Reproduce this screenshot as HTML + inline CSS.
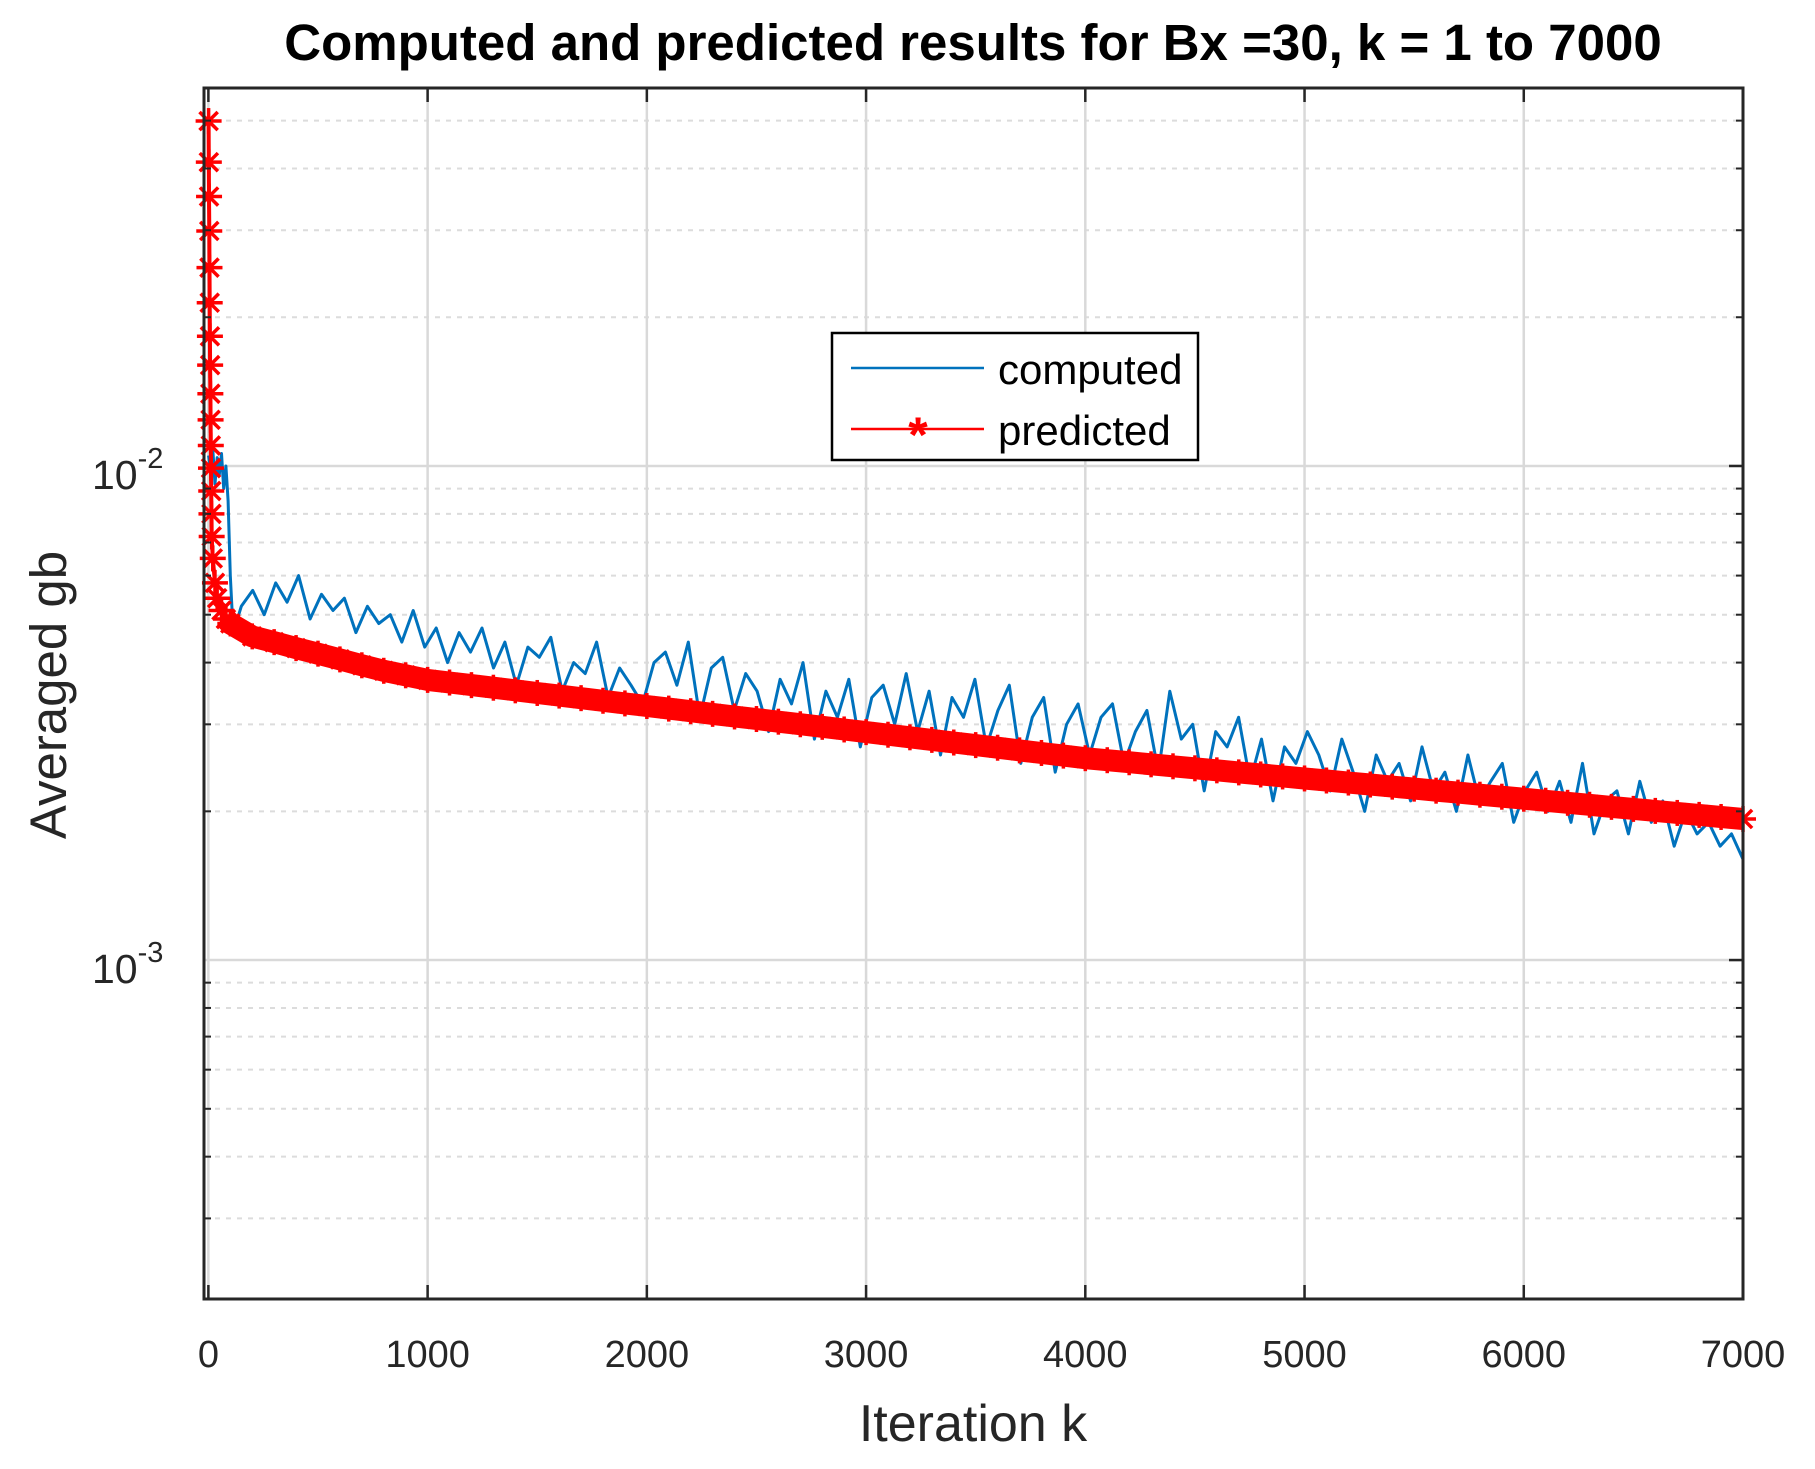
<!DOCTYPE html>
<html><head><meta charset="utf-8"><style>
html,body{margin:0;padding:0;background:#fff;}
svg{display:block;font-family:"Liberation Sans",Arial,sans-serif;}
</style></head><body>
<svg id="chart" width="1815" height="1469" viewBox="0 0 1815 1469" xmlns="http://www.w3.org/2000/svg">
<rect x="0" y="0" width="1815" height="1469" fill="#fff"/>
<g id="grid"></g>
<g id="series"></g>
<g id="axes"></g>
<text x="973" y="60" text-anchor="middle" font-size="51" font-weight="bold" fill="#000">Computed and predicted results for Bx =30, k = 1 to 7000</text>
<text x="973" y="1441" text-anchor="middle" font-size="52" fill="#262626">Iteration k</text>
<text transform="translate(66,695) rotate(-90)" text-anchor="middle" font-size="51" fill="#262626">Averaged gb</text>
<g>
<rect x="832" y="333" width="366" height="127" fill="#fff" stroke="#000" stroke-width="2.5"/>
<line x1="851" y1="368" x2="984" y2="368" stroke="#0072BD" stroke-width="2.5"/>
<text x="998" y="384" font-size="42" fill="#000">computed</text>
<line x1="851" y1="429" x2="984" y2="429" stroke="#ff0000" stroke-width="2.5"/>
<text x="918" y="452" text-anchor="middle" font-size="50" font-weight="bold" fill="#ff0000">*</text>
<text x="998" y="445" font-size="42" fill="#000">predicted</text>
</g>
</svg>
<script>
const xTicks = [0,1000,2000,3000,4000,5000,6000,7000];
const yMajor = [0.001,0.01];
const yMinor = [0.0003,0.0004,0.0005,0.0006,0.0007,0.0008,0.0009,0.002,0.003,0.004,0.005,0.006,0.007,0.008,0.009,0.02,0.03,0.04,0.05];
const predEarlyK = [1,2,3,4,5,6,7,8,9,10,11,12,13,14,15,20,30,40,60,80];
const predEarlyV = [0.0499,0.0412,0.0351,0.0299,0.0252,0.0214,0.0183,0.0160,0.0140,0.0124,0.0110,0.0099,0.0089,0.0080,0.0072,0.0065,0.0058,0.0054,0.0051,0.0049];
const predV = [0.0048,0.00452,0.00440,0.00428,0.00417,0.00406,0.00395,0.00385,0.00377,
0.00369,0.003645,0.003601,0.003558,0.003515,0.003472,0.003430,0.003389,0.003348,0.003307,
0.003267,0.003228,0.003189,0.003150,0.003112,0.003075,0.003037,0.003001,0.002965,0.002929,
0.002893,0.002858,0.002824,0.002790,0.002756,0.002723,0.002690,0.002657,0.002625,0.002593,
0.002562,0.002538,0.002514,0.002490,0.002467,0.002444,0.002421,0.002398,0.002375,0.002353,
0.002331,0.002309,0.002287,0.002266,0.002244,0.002223,0.002202,0.002182,0.002161,0.002141,
0.002121,0.002101,0.002081,0.002062,0.002042,0.002023,0.002004,0.001985,0.001967,0.001948,0.001930];
const compEarlyK = [1,10,20,30,40,50,60,70,80,90,100,110,120];
const compEarlyV = [0.0105,0.0098,0.0108,0.0092,0.0104,0.0096,0.0106,0.0090,0.0100,0.0085,0.0060,0.0049,0.0047];
const compV = [0.0052,0.0056,0.0050,0.0058,0.0053,0.0060,0.0049,0.0055,0.0051,0.0054,0.0046,0.0052,0.0048,0.0050,0.0044,0.0051,0.0043,0.0047,
0.0040,0.0046,0.0042,0.0047,0.0039,0.0044,0.0036,0.0043,0.0041,0.0045,0.0035,0.0040,0.0038,0.0044,0.0034,0.0039,0.0036,0.0033,0.0040,
0.0042,0.0036,0.0044,0.0031,0.0039,0.0041,0.0032,0.0038,0.0035,0.0029,0.0037,0.0033,0.0040,0.0028,0.0035,0.0031,0.0037,0.0027,0.0034,
0.0036,0.0030,0.0038,0.0029,0.0035,0.0026,0.0034,0.0031,0.0037,0.0027,0.0032,0.0036,0.0025,0.0031,0.0034,0.0024,0.0030,0.0033,0.0026,
0.0031,0.0033,0.0025,0.0029,0.0032,0.0024,0.0035,0.0028,0.0030,0.0022,0.0029,0.0027,0.0031,0.0023,0.0028,0.0021,0.0027,0.0025,0.0029,
0.0026,0.0022,0.0028,0.0024,0.0020,0.0026,0.0023,0.0025,0.0021,0.0027,0.0022,0.0024,0.0020,0.0026,0.0021,0.0023,0.0025,0.0019,0.0022,
0.0024,0.0020,0.0023,0.0019,0.0025,0.0018,0.0021,0.0022,0.0018,0.0023,0.0019,0.0021,0.0017,0.0020,0.0018,0.0019,0.0017,0.0018,0.0016];

const NS='http://www.w3.org/2000/svg';
const L=204,R=1743,T=88,B=1299;
const xMin=-20,xMax=7000;
const yMinL=-3.686,yMaxL=-1.235;
const X=k=>L+(k-xMin)/(xMax-xMin)*(R-L);
const Y=v=>B-(Math.log10(v)-yMinL)/(yMaxL-yMinL)*(B-T);
function mk(tag,attrs,parent){const e=document.createElementNS(NS,tag);for(const a in attrs)e.setAttribute(a,attrs[a]);parent.appendChild(e);return e;}
const grid=document.getElementById('grid'),series=document.getElementById('series'),axes=document.getElementById('axes');

yMinor.forEach(v=>{const y=Y(v);
 const l=mk('line',{x1:L,x2:R,y1:y,y2:y,stroke:'#dcdcdc','stroke-width':2,'stroke-dasharray':'5,6'},grid);
 
 
 const t=mk('line',{x1:R-7,x2:R,y1:y,y2:y,stroke:'#262626','stroke-width':2},axes);
 
 
 const t2=mk('line',{x1:L,x2:L+7,y1:y,y2:y,stroke:'#262626','stroke-width':2},axes);
 
 
});
yMajor.forEach(v=>{const y=Y(v);
 const l=mk('line',{x1:L,x2:R,y1:y,y2:y,stroke:'#d9d9d9','stroke-width':2.5},grid);
 
 
 const t=mk('line',{x1:R-14,x2:R,y1:y,y2:y,stroke:'#262626','stroke-width':2.5},axes);
 
 
 const tx=mk('text',{x:L-112,y:y+23,'font-size':41,fill:'#262626'},axes);
 
 
 tx.textContent='10';
 const sp=mk('tspan',{dy:-21,'font-size':29},tx);
 sp.textContent='-'+Math.round(-Math.log10(v));
});
xTicks.forEach(k=>{const x=X(k);
 const l=mk('line',{x1:x,x2:x,y1:T,y2:B,stroke:'#d9d9d9','stroke-width':2.5},grid);
 
 
 const t=mk('line',{x1:x,x2:x,y1:B-14,y2:B,stroke:'#262626','stroke-width':2.5},axes);
 
 
 const t2=mk('line',{x1:x,x2:x,y1:T,y2:T+14,stroke:'#262626','stroke-width':2.5},axes);
 
 
 const tx=mk('text',{x:x,y:1367,'text-anchor':'middle','font-size':38,fill:'#262626'},axes);
 
 
 tx.textContent=String(k);
});
const box=mk('rect',{x:L,y:T,width:R-L,height:B-T,fill:'none',stroke:'#262626','stroke-width':3},axes);



// computed series
const cPts=[];
compEarlyK.forEach((k,i)=>cPts.push([X(k),Y(compEarlyV[i])]));
const cStep=(7000-150)/(compV.length-1);
compV.forEach((v,i)=>cPts.push([X(150+i*cStep),Y(v)]));
const cp=mk('polyline',{points:cPts.map(p=>p[0].toFixed(1)+','+p[1].toFixed(1)).join(' '),fill:'none',stroke:'#0072BD','stroke-width':3,'stroke-linejoin':'round'},series);



// predicted series
const ePts=predEarlyK.map((k,i)=>[X(k),Y(predEarlyV[i])]);
const mPts=predV.map((v,i)=>[X(100+i*100),Y(v)]);
const allP=ePts.concat(mPts);
const pe=mk('polyline',{points:allP.map(p=>p[0].toFixed(1)+','+p[1].toFixed(1)).join(' '),fill:'none',stroke:'#ff0000','stroke-width':4,'stroke-linejoin':'round'},series);


const bandPts=[ePts[ePts.length-1]].concat(mPts);
const pp=mk('polyline',{points:bandPts.map(p=>p[0].toFixed(1)+','+p[1].toFixed(1)).join(' '),fill:'none',stroke:'#ff0000','stroke-width':22,'stroke-linejoin':'round'},series);


function star(x,y){
 const g=mk('g',{stroke:'#ff0000','stroke-width':3.5},series);
 
 
 const s=13;
 mk('line',{x1:x-s,x2:x+s,y1:y,y2:y},g);
 mk('line',{x1:x,x2:x,y1:y-s,y2:y+s},g);
 mk('line',{x1:x-s*0.7,x2:x+s*0.7,y1:y-s*0.7,y2:y+s*0.7},g);
 mk('line',{x1:x-s*0.7,x2:x+s*0.7,y1:y+s*0.7,y2:y-s*0.7},g);
}
allP.forEach(p=>star(p[0],p[1]));
</script>
</body></html>
